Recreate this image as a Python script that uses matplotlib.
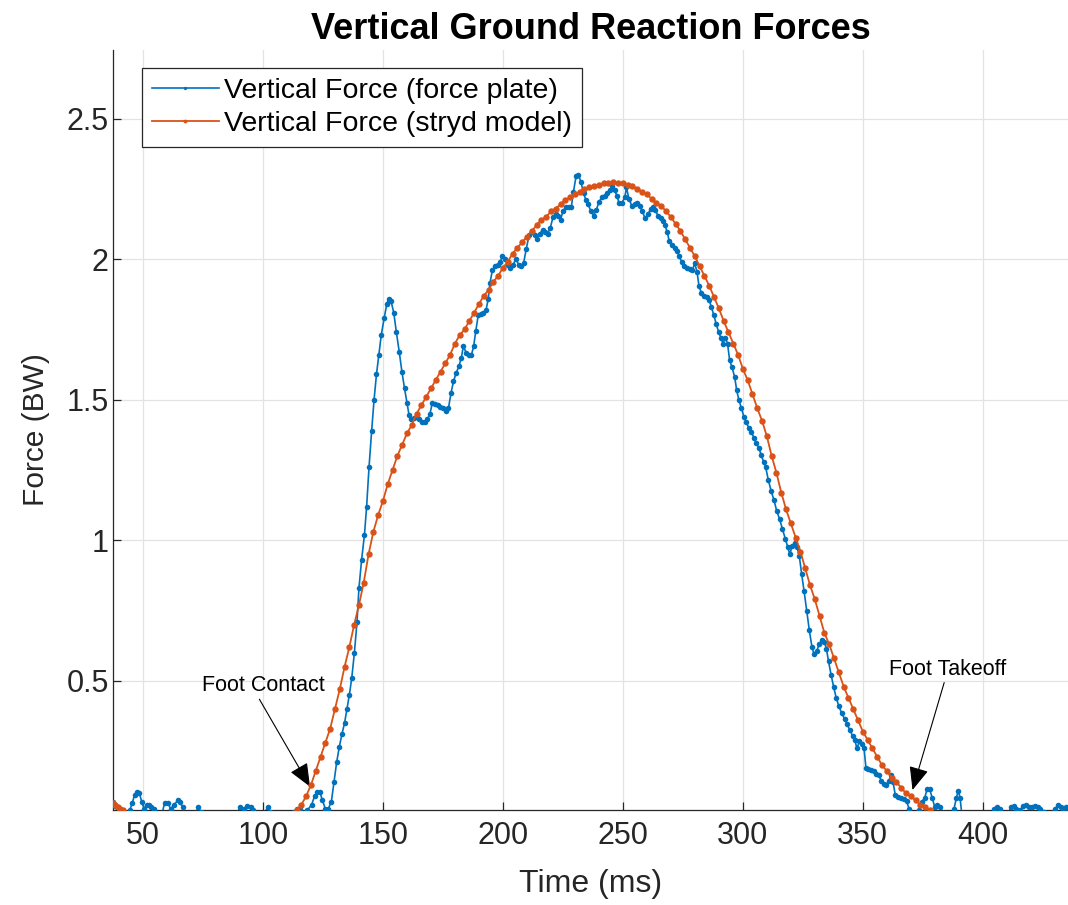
"""Vertical ground reaction forces: force plate vs stryd model."""
import matplotlib

matplotlib.use("Agg")
import matplotlib.pyplot as plt
import numpy as np

plt.rcParams["font.family"] = ["Liberation Sans", "DejaVu Sans"]

# force plate samples (time ms, force BW)
plate_t = [
    37.5, 38.5, 39.5, 41, 43, 44.5, 45.5, 46.5, 47.5, 48.5, 49.5, 50.5, 51.5, 52.5,
    53.5, 54.5, 56, 58, 59, 60.5, 61.5, 63, 64.5, 65.5, 66.5, 68, 70, 72, 73, 74,
    76, 80, 85, 89, 90.5, 92, 93.5, 95, 96, 98, 100.5, 102, 103, 106, 110, 113,
    114, 115.5, 117, 118.5, 120.3, 121.5, 122.5, 123.7, 124.8, 126, 127.2, 128.5,
    129.6, 130.7, 131.8, 132.9, 134, 135, 136, 137, 138.1, 139.2, 140, 141.1, 142.3,
    143.2, 144.2, 145.3, 146.3, 147.3, 148.3, 149.3, 150.5, 151.6, 152.4, 153.4,
    154.5, 155.6, 156.8, 157.9, 159, 160, 160.9, 161.9, 163, 164.1, 165.2, 166.3,
    167.4, 168.5, 169.6, 170.6, 171.7, 172.8, 173.9, 175, 176.2, 177.3, 178.4,
    179.4, 180.5, 181.7, 182.7, 183.5, 184.8, 186, 186.9, 187.8, 188.7, 189.7,
    190.8, 191.9, 193, 193.9, 194.6, 195.6, 196.7, 197.8, 198.8, 199.8, 201, 202.1,
    203, 204.2, 205.4, 206.6, 207.6, 208.6, 209.7, 210.9, 212.1, 213.2, 214.1,
    215.3, 216.6, 217.7, 218.6, 219.7, 220.9, 222, 223, 224, 225, 226.2, 227.4,
    228.5, 229.4, 230.5, 231.5, 232.5, 233.6, 234.6, 235.5, 236.7, 237.8, 238.9,
    240.1, 241.3, 242.4, 243.5, 244.5, 245.6, 246.6, 247.5, 248.4, 249.6, 250.8,
    251.5, 252.5, 253.7, 254.9, 256, 257, 258.1, 259.3, 260.5, 261.6, 262.5, 263.5,
    264.6, 265.7, 266.7, 267.6, 268.5, 269.3, 270.5, 271.6, 272.6, 273.5, 274.5,
    275.6, 276.7, 277.8, 278.9, 279.9, 280.9, 281.7, 282.7, 283.8, 284.9, 285.9,
    286.9, 287.9, 288.9, 289.9, 290.9, 291.7, 292.7, 293.6, 294.5, 295.5, 296.6,
    297.4, 298.3, 299.4, 300.4, 301.4, 302.5, 303.5, 304.6, 305.6, 306.6, 307.6,
    308.6, 309.5, 310.6, 311.8, 312.9, 314.1, 315.3, 316.5, 317.7, 318.7, 319.6,
    320.5, 321.6, 322.6, 323.5, 324.5, 325.5, 326.6, 327.7, 328.8, 329.7, 330.7,
    331.8, 332.9, 333.9, 334.8, 335.7, 336.8, 337.8, 338.9, 340, 341.2, 342.4,
    343.5, 344.6, 345.7, 346.7, 347.5, 348.6, 349.7, 350.5, 351.3, 352.3, 353.4,
    354.5, 355.6, 356.6, 357.7, 358.8, 359.8, 360.8, 361.8, 362.6, 363.5, 364.6,
    365.8, 367, 368.2, 369.3, 370.5, 372, 373.5, 374.6, 375.8, 376.8, 377.8, 378.9,
    380, 381.1, 382.3, 383.5, 385, 387, 388, 389, 389.8, 390.5, 391.2, 393, 398,
    403, 404.5, 405.8, 407, 408.5, 410.5, 411.7, 412.9, 414, 415.5, 416.8, 418,
    419.2, 420.4, 421.6, 422.8, 424, 425.3, 427, 429, 430.2, 431.3, 432.4, 433.5,
    434.7, 436,
]
plate_f = [
    0.07, 0.055, 0.03, 0.01, 0.02, 0.04, 0.065, 0.095, 0.105, 0.10, 0.07, 0.045, 0.06, 0.058,
    0.05, 0.045, 0.02, 0.03, 0.065, 0.065, 0.045, 0.06, 0.075, 0.07, 0.05, 0.02, 0.01, 0.03, 0.05, 0.035,
    0.01, 0.0, 0.01, 0.03, 0.05, 0.045, 0.055, 0.05, 0.04, 0.01, 0.03, 0.05, 0.035, 0.0, 0.01, 0.035,
    0.045, 0.045, 0.03, 0.04, 0.06, 0.09, 0.105, 0.105, 0.075, 0.045, 0.045, 0.07,
    0.14, 0.21, 0.265, 0.31, 0.35, 0.40, 0.45, 0.51, 0.60, 0.71, 0.83, 0.93, 1.02,
    1.12, 1.26, 1.39, 1.50, 1.59, 1.66, 1.73, 1.79, 1.84, 1.86, 1.85,
    1.81, 1.74, 1.67, 1.60, 1.54, 1.49, 1.445, 1.43, 1.435, 1.44, 1.43, 1.42,
    1.42, 1.43, 1.45, 1.49, 1.485, 1.48, 1.475, 1.47, 1.46, 1.47, 1.525,
    1.565, 1.595, 1.62, 1.65, 1.69, 1.665, 1.66, 1.66, 1.69, 1.745, 1.80,
    1.805, 1.81, 1.82, 1.86, 1.915, 1.96, 1.975, 1.98, 1.99, 2.01, 2.0, 1.98,
    1.97, 1.98, 2.0, 1.98, 1.975, 1.985, 2.035, 2.085, 2.095, 2.085, 2.07,
    2.09, 2.105, 2.095, 2.09, 2.11, 2.15, 2.16, 2.155, 2.14, 2.17, 2.185, 2.185,
    2.185, 2.24, 2.295, 2.30, 2.275, 2.235, 2.21, 2.195, 2.17, 2.155, 2.175,
    2.205, 2.22, 2.225, 2.235, 2.245, 2.26, 2.245, 2.225, 2.20, 2.20, 2.22,
    2.255, 2.215, 2.19, 2.195, 2.20, 2.19, 2.17, 2.145, 2.16, 2.18, 2.185, 2.175,
    2.155, 2.145, 2.135, 2.12, 2.095, 2.065, 2.05, 2.04, 2.03, 2.01, 1.99,
    1.975, 1.97, 1.965, 1.96, 1.985, 1.955, 1.905, 1.88, 1.87, 1.865, 1.855,
    1.83, 1.80, 1.77, 1.74, 1.72, 1.70, 1.72, 1.70, 1.64, 1.615, 1.58,
    1.535, 1.50, 1.47, 1.44, 1.42, 1.40, 1.385, 1.365, 1.345, 1.33, 1.305,
    1.28, 1.26, 1.215, 1.175, 1.145, 1.105, 1.075, 1.04, 1.005, 0.975, 0.95,
    0.98, 0.99, 0.975, 0.945, 0.88, 0.82, 0.75, 0.68, 0.62, 0.595, 0.605,
    0.63, 0.645, 0.64, 0.615, 0.57, 0.52, 0.48, 0.44, 0.41, 0.385, 0.365,
    0.345, 0.325, 0.305, 0.29, 0.26, 0.285, 0.275, 0.26, 0.19, 0.185, 0.182,
    0.178, 0.17, 0.165, 0.145, 0.135, 0.13, 0.145, 0.165, 0.14, 0.095, 0.088,
    0.085, 0.08, 0.072, 0.045, 0.02, 0.01, 0.04, 0.07, 0.085, 0.115, 0.115, 0.085,
    0.05, 0.057, 0.05, 0.03, 0.01, 0.03, 0.045, 0.085, 0.11, 0.085, 0.03, 0.0, 0.0,
    0.02, 0.045, 0.05, 0.045, 0.02, 0.03, 0.05, 0.055, 0.045, 0.04, 0.055, 0.058,
    0.05, 0.05, 0.055, 0.05, 0.045, 0.035, 0.02, 0.03, 0.045, 0.06, 0.05, 0.04,
    0.05, 0.045,
]

# stryd model: tail of previous step, then the contact curve (2 ms steps)
model_tail_t = [37.5, 38.5, 39.5, 40.5, 41.5]
model_tail_f = [0.065, 0.058, 0.052, 0.046, 0.04]
model_start = 114
model_f = [
    0.04, 0.06, 0.09, 0.13, 0.18, 0.23, 0.28, 0.33, 0.40, 0.47, 0.55, 0.62, 0.70,
    0.77, 0.85, 0.95, 1.03, 1.09, 1.14, 1.20, 1.25, 1.30, 1.34, 1.38, 1.41, 1.45,
    1.48, 1.51, 1.54, 1.57, 1.60, 1.63, 1.66, 1.70, 1.73, 1.75, 1.78, 1.81, 1.84,
    1.87, 1.89, 1.92, 1.94, 1.97, 1.99, 2.02, 2.04, 2.06, 2.08, 2.10, 2.12, 2.14,
    2.15, 2.17, 2.18, 2.195, 2.21, 2.22, 2.23, 2.24, 2.25, 2.255, 2.26, 2.265,
    2.27, 2.272, 2.273, 2.272, 2.27, 2.265, 2.26, 2.25, 2.24, 2.23, 2.215, 2.20,
    2.19, 2.17, 2.15, 2.125, 2.10, 2.07, 2.04, 2.01, 1.975, 1.94, 1.905, 1.865,
    1.825, 1.78, 1.74, 1.70, 1.66, 1.61, 1.57, 1.52, 1.47, 1.425, 1.37, 1.30,
    1.24, 1.17, 1.11, 1.06, 1.01, 0.96, 0.90, 0.84, 0.79, 0.73, 0.67, 0.63, 0.58,
    0.53, 0.48, 0.44, 0.40, 0.36, 0.32, 0.29, 0.26, 0.23, 0.20, 0.18, 0.155,
    0.14, 0.12, 0.10, 0.09, 0.075, 0.06, 0.05, 0.04,
]
model_t = model_start + 2 * np.arange(len(model_f))

x_ticks = [50, 100, 150, 200, 250, 300, 350, 400]
y_ticks = [0.5, 1, 1.5, 2, 2.5]
y_tick_labels = ["0.5", "1", "1.5", "2", "2.5"]

BLUE = "#0072BD"
ORANGE = "#D95319"
AX_COLOR = "#262626"

fig = plt.figure(figsize=(10.68, 9.05), dpi=100)
ax = fig.add_axes([0.1058, 0.105, 0.8942, 0.8398])

ax.plot(plate_t, plate_f, color=BLUE, lw=1.2, marker="o", ms=4.0, mew=0,
        label="Vertical Force (force plate)", zorder=3)
ax.plot(model_t, model_f, color=ORANGE, lw=1.3, marker="o", ms=4.6, mew=0,
        label="Vertical Force (stryd model)", zorder=4)
ax.plot(model_tail_t, model_tail_f, color=ORANGE, lw=1.3, marker="o", ms=4.6,
        mew=0, zorder=4)

ax.set_xlim(37.5, 435.5)
ax.set_ylim(0.041, 2.744)
ax.set_xticks(x_ticks)
ax.set_yticks(y_ticks)
ax.set_yticklabels(y_tick_labels)
ax.grid(True, color="#e3e3e3", lw=0.9)
ax.set_axisbelow(True)
for side in ("top", "right"):
    ax.spines[side].set_visible(False)
for side in ("left", "bottom"):
    ax.spines[side].set_color(AX_COLOR)
    ax.spines[side].set_linewidth(0.9)
ax.tick_params(direction="in", length=6, width=0.9, colors=AX_COLOR,
               labelsize=22)
ax.tick_params(axis="x", pad=8)
ax.tick_params(axis="y", pad=3)

ax.set_xlabel("Time (ms)", fontsize=23, color=AX_COLOR, labelpad=13)
ax.set_ylabel("Force (BW)", fontsize=21.5, color=AX_COLOR, labelpad=12)
ax.set_title("Vertical Ground Reaction Forces", fontsize=26, fontweight="bold",
             pad=8)

leg = ax.legend(loc="upper left", bbox_to_anchor=(0.03, 0.976), borderaxespad=0,
                fontsize=20.5, fancybox=False, edgecolor=AX_COLOR, framealpha=1,
                handlelength=2.35, handletextpad=0.2, borderpad=0.35,
                labelspacing=0.25, markerscale=0.6)
leg.get_frame().set_linewidth(0.9)

# annotations
arrow = dict(arrowstyle="-|>,head_length=0.45,head_width=0.19", color="black",
             lw=0.8, mutation_scale=32, shrinkA=0, shrinkB=0)
ax.text(100, 0.482, "Foot Contact", fontsize=15.5, ha="center", va="center")
ax.annotate("", xy=(119.6, 0.124), xytext=(98.5, 0.435), arrowprops=arrow)
ax.text(385.4, 0.54, "Foot Takeoff", fontsize=15.5, ha="center", va="center")
ax.annotate("", xy=(370.7, 0.112), xytext=(383.9, 0.494), arrowprops=arrow)

fig.savefig("out.png", dpi=100)
